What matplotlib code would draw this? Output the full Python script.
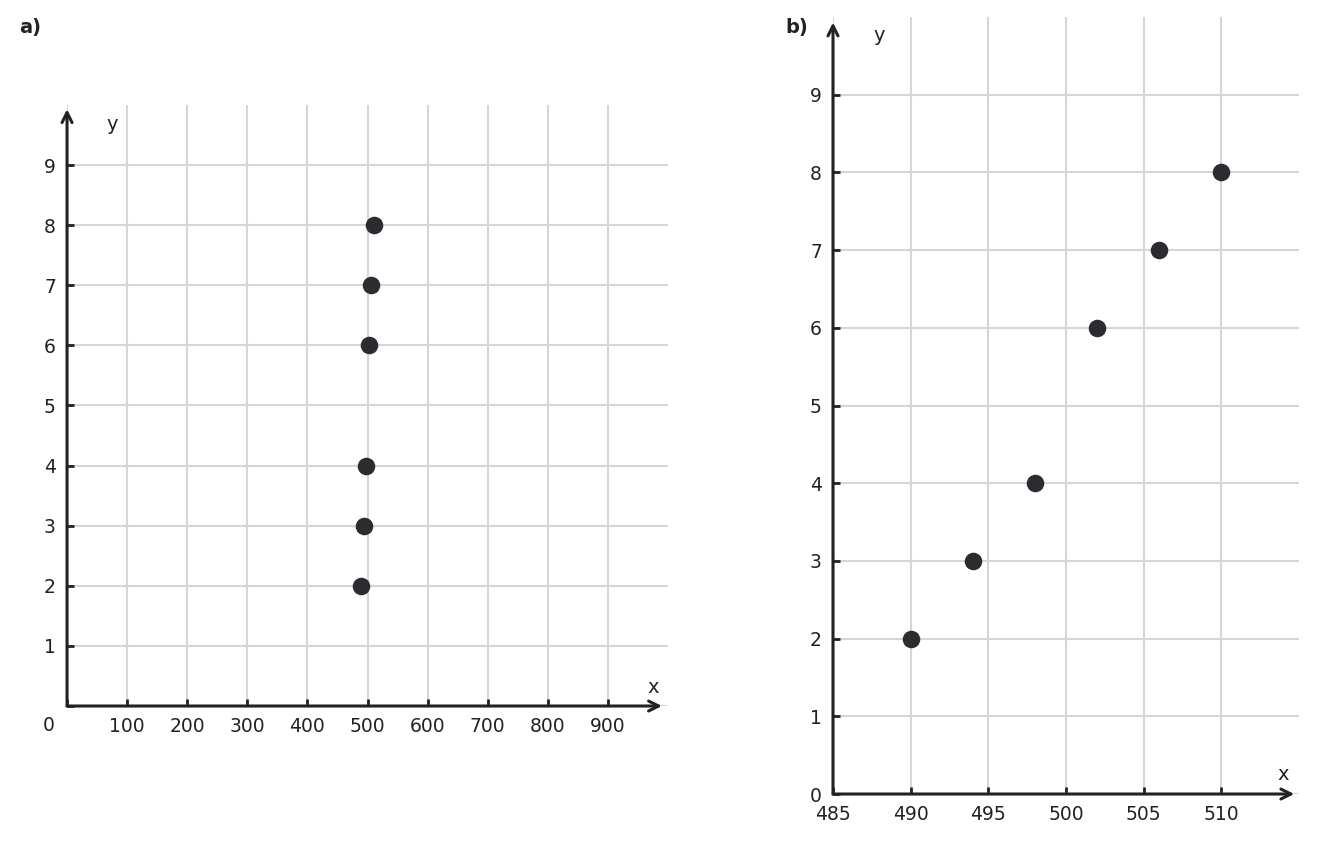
import matplotlib.pyplot as plt

# data points (same in both panels)
x_vals = [490, 494, 498, 502, 506, 510]
y_vals = [2, 3, 4, 6, 7, 8]

# axis setup for each panel
a_xticks = [0, 100, 200, 300, 400, 500, 600, 700, 800, 900]
a_yticks = [0, 1, 2, 3, 4, 5, 6, 7, 8, 9]
b_xticks = [485, 490, 495, 500, 505, 510]
b_yticks = [0, 1, 2, 3, 4, 5, 6, 7, 8, 9]

INK = '#222222'
GRID = '#d6d6d6'
DOT = '#2b2b30'

plt.rcParams['font.family'] = ['DejaVu Sans']

fig = plt.figure(figsize=(13.17, 8.43), dpi=100)
ax_a = fig.add_axes([0.0509, 0.1625, 0.4563, 0.713])
ax_b = fig.add_axes([0.6325, 0.0581, 0.3538, 0.9217])


def style_axes(ax, xlim, ylim, xticks, yticks, xlabels, ylabels):
    ax.set_xlim(*xlim)
    ax.set_ylim(*ylim)
    ax.set_xticks(xticks)
    ax.set_yticks(yticks)
    ax.set_xticklabels(xlabels)
    ax.set_yticklabels(ylabels)
    for s in ax.spines.values():
        s.set_visible(False)
    ax.grid(True, color=GRID, linewidth=1.5, zorder=0)
    ax.set_axisbelow(True)
    ax.tick_params(direction='in', length=5, width=2, colors=INK,
                   labelsize=13.5, pad=8)
    ax.tick_params(axis='x', pad=8)
    ax.set_facecolor('none')
    # axis lines with arrow heads
    arrow = dict(arrowstyle='->', color=INK, lw=2.2, mutation_scale=18,
                 shrinkA=0, shrinkB=0)
    ax.annotate('', xy=(0.99, 0), xytext=(0, 0), xycoords='axes fraction',
                arrowprops=arrow, annotation_clip=False)
    ax.annotate('', xy=(0, 0.993), xytext=(0, 0), xycoords='axes fraction',
                arrowprops=arrow, annotation_clip=False)


style_axes(ax_a, (0, 1000), (0, 10), a_xticks, a_yticks,
           [''] + [str(t) for t in a_xticks[1:]],
           [''] + [str(t) for t in a_yticks[1:]])
style_axes(ax_b, (485, 515), (0, 10), b_xticks, b_yticks,
           [str(t) for t in b_xticks], [str(t) for t in b_yticks])

ax_a.scatter(x_vals, y_vals, s=135, color=DOT, zorder=3, clip_on=False)
ax_b.scatter(x_vals, y_vals, s=135, color=DOT, zorder=3, clip_on=False)

# origin label for panel a
ax_a.text(-30, -0.32, '0', ha='center', va='center', fontsize=13.5, color=INK)

# axis names
ax_a.text(975, 0.3, 'x', ha='center', va='center', fontsize=14, color=INK)
ax_a.text(76, 9.68, 'y', ha='center', va='center', fontsize=14, color=INK)
ax_b.text(514, 0.25, 'x', ha='center', va='center', fontsize=14, color=INK)
ax_b.text(488, 9.76, 'y', ha='center', va='center', fontsize=14, color=INK)

# panel letters
fig.text(30 / 1317, 1 - 27 / 843, 'a)', ha='center', va='center',
         fontsize=14, fontweight='bold', color=INK)
fig.text(797 / 1317, 1 - 27 / 843, 'b)', ha='center', va='center',
         fontsize=14, fontweight='bold', color=INK)

fig.savefig('out.png', dpi=100)
